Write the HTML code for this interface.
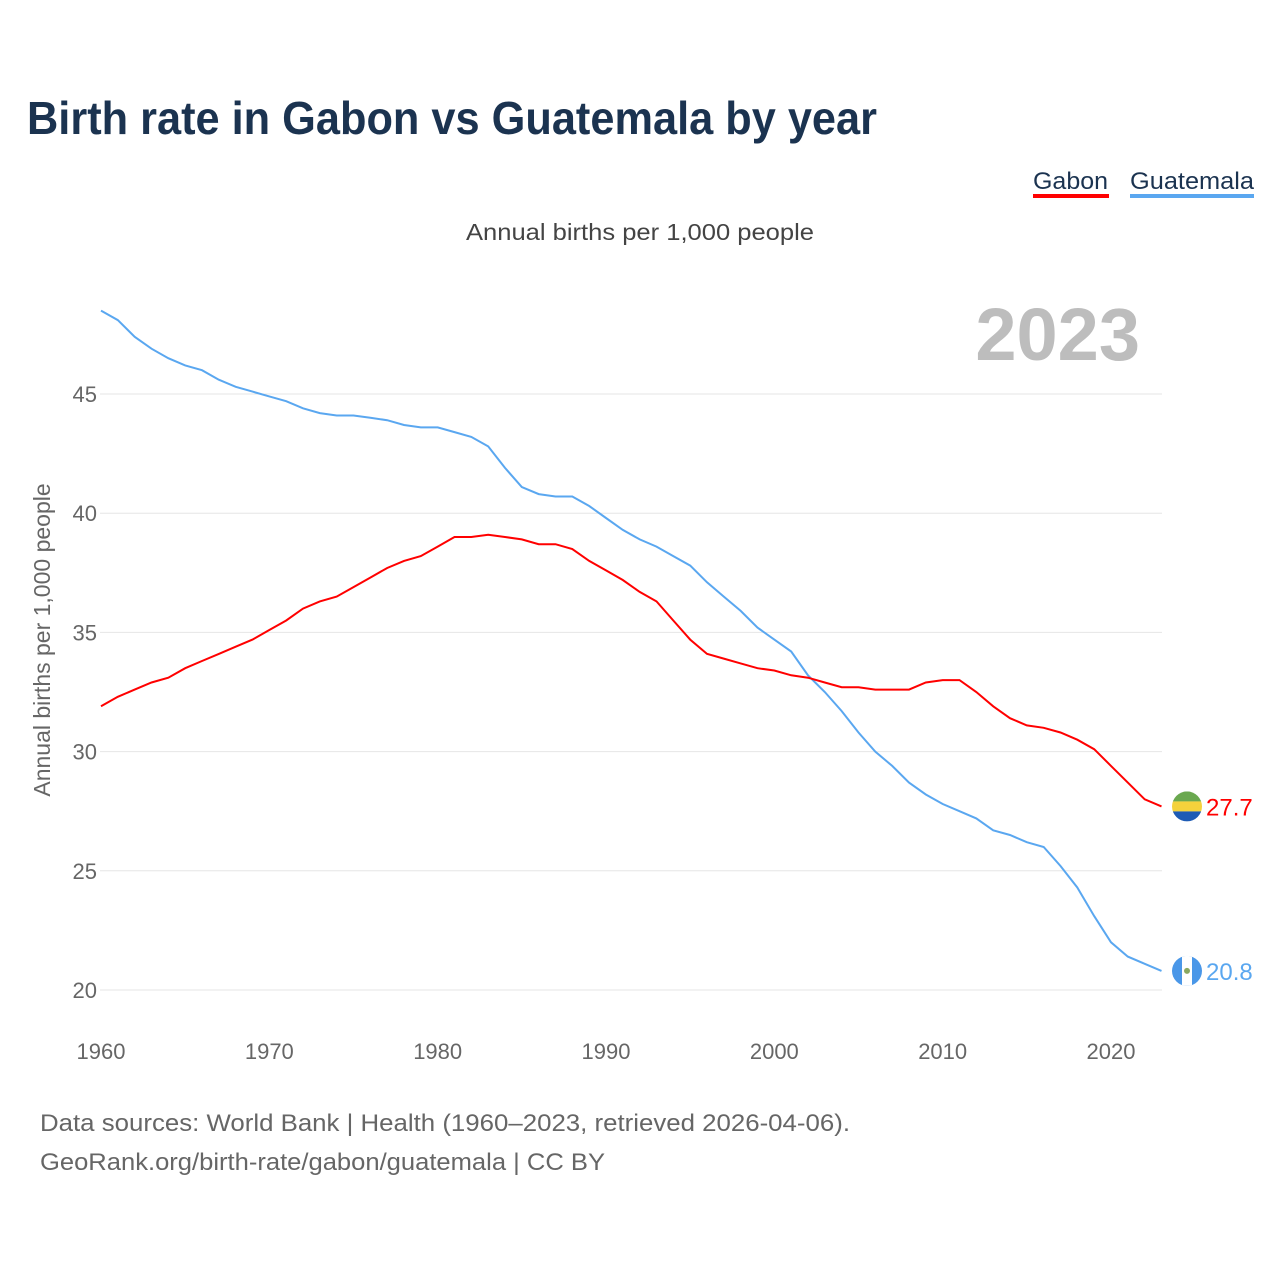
<!DOCTYPE html>
<html><head><meta charset="utf-8">
<style>
body{margin:0;background:#fff;font-family:"Liberation Sans",sans-serif;}
#wrap{position:relative;width:1280px;height:1280px;overflow:hidden;}
</style></head>
<body>
<div id="wrap">
<svg id="svg" width="1280" height="1280" xmlns="http://www.w3.org/2000/svg">
<text x="27" y="134" font-size="46" font-weight="bold" fill="#1b3350" textLength="850" lengthAdjust="spacingAndGlyphs">Birth rate in Gabon vs Guatemala by year</text>
<g>
<text x="1033" y="189" font-size="24" fill="#1b3350" textLength="75" lengthAdjust="spacingAndGlyphs">Gabon</text>
<rect x="1033" y="194" width="76" height="4" fill="#ff0000"/>
</g>
<g>
<text x="1130" y="189" font-size="24" fill="#1b3350" textLength="124" lengthAdjust="spacingAndGlyphs">Guatemala</text>
<rect x="1130" y="194" width="124" height="4" fill="#5aa7f0"/>
</g>
<text x="466" y="240" font-size="23" fill="#444" textLength="348" lengthAdjust="spacingAndGlyphs">Annual births per 1,000 people</text>
<text x="1140" y="360" font-size="74" font-weight="bold" fill="#bdbdbd" text-anchor="end">2023</text>
<text transform="translate(50,640) rotate(-90)" font-size="23" fill="#666" text-anchor="middle">Annual births per 1,000 people</text>
<g id="grid"></g><g id="xt"></g><g id="lines"></g>
<text x="40" y="1131" font-size="24" fill="#666" textLength="810" lengthAdjust="spacingAndGlyphs">Data sources: World Bank | Health (1960–2023, retrieved 2026-04-06).</text>
<text x="40" y="1170" font-size="24" fill="#666" textLength="565" lengthAdjust="spacingAndGlyphs">GeoRank.org/birth-rate/gabon/guatemala | CC BY</text>
</svg>
</div>
<script>
const years=[];for(let y=1960;y<=2023;y++)years.push(y);
const gabon=[31.9,32.3,32.6,32.9,33.1,33.5,33.8,34.1,34.4,34.7,35.1,35.5,36.0,36.3,36.5,36.9,37.3,37.7,38.0,38.2,38.6,39.0,39.0,39.1,39.0,38.9,38.7,38.7,38.5,38.0,37.6,37.2,36.7,36.3,35.5,34.7,34.1,33.9,33.7,33.5,33.4,33.2,33.1,32.9,32.7,32.7,32.6,32.6,32.6,32.9,33.0,33.0,32.5,31.9,31.4,31.1,31.0,30.8,30.5,30.1,29.4,28.7,28.0,27.7];
const guatemala=[48.5,48.1,47.4,46.9,46.5,46.2,46.0,45.6,45.3,45.1,44.9,44.7,44.4,44.2,44.1,44.1,44.0,43.9,43.7,43.6,43.6,43.4,43.2,42.8,41.9,41.1,40.8,40.7,40.7,40.3,39.8,39.3,38.9,38.6,38.2,37.8,37.1,36.5,35.9,35.2,34.7,34.2,33.2,32.5,31.7,30.8,30.0,29.4,28.7,28.2,27.8,27.5,27.2,26.7,26.5,26.2,26.0,25.2,24.3,23.1,22.0,21.4,21.1,20.8];
const yTicks=[20,25,30,35,40,45];
const xTicks=[1960,1970,1980,1990,2000,2010,2020];
const NS="http://www.w3.org/2000/svg";
const X=y=>101+(y-1960)*(1010/60);
const Y=v=>990-(v-20)*(596/25);
function mk(t,a,p){const e=document.createElementNS(NS,t);for(const k in a)e.setAttribute(k,a[k]);p.appendChild(e);return e;}
const grid=document.getElementById('grid');
yTicks.forEach(v=>{
const l=mk('line',{x1:100,x2:1162,y1:Y(v),y2:Y(v),stroke:'#e6e6e6','stroke-width':1},grid);


const t=mk('text',{x:97,y:Y(v)+8,'font-size':22,fill:'#666','text-anchor':'end'},grid);
t.textContent=v;


});
const xt=document.getElementById('xt');
xTicks.forEach(v=>{
const t=mk('text',{x:X(v),y:1059,'font-size':22,fill:'#666','text-anchor':'middle'},xt);
t.textContent=v;


});
const lines=document.getElementById('lines');
function series(d,c,name){
const p=mk('path',{d:d.map((v,i)=>(i?'L':'M')+X(years[i]).toFixed(1)+','+Y(v).toFixed(1)).join(''),fill:'none',stroke:c,'stroke-width':2},lines);


const last=d[d.length-1],cy=Y(last);
const g=mk('g',{},lines);


if(name==='gabon'){
mk('clipPath',{id:'cg'},g);mk('circle',{cx:1187,cy:cy,r:15},g.lastChild);
mk('rect',{x:1172,y:cy-15,width:30,height:10,fill:'#6aa84f','clip-path':'url(#cg)'},g);
mk('rect',{x:1172,y:cy-5,width:30,height:10,fill:'#f4d23c','clip-path':'url(#cg)'},g);
mk('rect',{x:1172,y:cy+5,width:30,height:10,fill:'#1d5bb5','clip-path':'url(#cg)'},g);
}else{
mk('clipPath',{id:'cq'},g);mk('circle',{cx:1187,cy:cy,r:15},g.lastChild);
mk('rect',{x:1172,y:cy-15,width:30,height:30,fill:'#4a97e8','clip-path':'url(#cq)'},g);
mk('rect',{x:1182,y:cy-15,width:10,height:30,fill:'#fff','clip-path':'url(#cq)'},g);
mk('circle',{cx:1187,cy:cy,r:3,fill:'#8aa860'},g);
}
const t=mk('text',{x:1206,y:cy+9,'font-size':24,fill:c},lines);
t.textContent=last.toFixed(1);


}
series(guatemala,'#5aa7f0','guatemala');
series(gabon,'#ff0000','gabon');
</script>
</body></html>
